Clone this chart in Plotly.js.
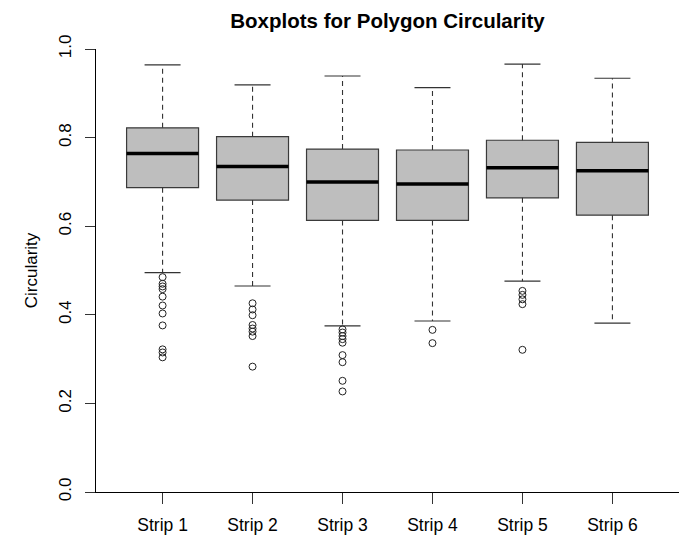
<!DOCTYPE html>
<html>
<head>
<meta charset="utf-8">
<script src="https://cdn.plot.ly/plotly-3.0.1.min.js"></script>
<style>html,body{margin:0;padding:0;background:#fff;}#chart{width:681px;height:538px;}</style>
</head>
<body>
<div id="chart"></div>
<script>
var categories = ["Strip 1", "Strip 2", "Strip 3", "Strip 4", "Strip 5", "Strip 6"];
var upperWhisker = [0.964, 0.919, 0.939, 0.913, 0.966, 0.934];
var q3 = [0.822, 0.802, 0.774, 0.772, 0.794, 0.789];
var median = [0.764, 0.735, 0.700, 0.695, 0.732, 0.725];
var q1 = [0.687, 0.659, 0.613, 0.613, 0.664, 0.625];
var lowerWhisker = [0.495, 0.465, 0.375, 0.386, 0.476, 0.381];
var outliers1 = [0.485, 0.470, 0.464, 0.458, 0.441, 0.421, 0.403, 0.376, 0.322, 0.315, 0.304];
var outliers2 = [0.426, 0.412, 0.399, 0.377, 0.369, 0.362, 0.352, 0.283];
var outliers3 = [0.367, 0.360, 0.352, 0.345, 0.337, 0.309, 0.293, 0.251, 0.227];
var outliers4 = [0.366, 0.336];
var outliers5 = [0.454, 0.445, 0.435, 0.424, 0.321];
var outliers6 = [];
var outliers = [outliers1, outliers2, outliers3, outliers4, outliers5, outliers6];

var pos = categories.map(function (c, i) { return i + 1; });
var halfBox = 0.4, halfCap = 0.2;

var medX = [], medY = [], wX = [], wY = [], capX = [], capY = [], oX = [], oY = [];
pos.forEach(function (p, i) {
  medX.push(p - halfBox, p + halfBox, null); medY.push(median[i], median[i], null);
  wX.push(p, p, null, p, p, null);
  wY.push(q3[i], upperWhisker[i], null, q1[i], lowerWhisker[i], null);
  capX.push(p - halfCap, p + halfCap, null, p - halfCap, p + halfCap, null);
  capY.push(upperWhisker[i], upperWhisker[i], null, lowerWhisker[i], lowerWhisker[i], null);
  outliers[i].forEach(function (v) { oX.push(p); oY.push(v); });
});

var traces = [
  {type: 'bar', x: pos, base: q1, y: q3.map(function (v, i) { return v - q1[i]; }),
   width: 0.8, marker: {color: '#bebebe', line: {color: '#3a3a3a', width: 1.2}},
   hoverinfo: 'skip', showlegend: false},
  {type: 'scatter', mode: 'lines', x: wX, y: wY, line: {color: '#333', width: 1.1, dash: '5px,4px'},
   showlegend: false, hoverinfo: 'skip'},
  {type: 'scatter', mode: 'lines', x: capX, y: capY, line: {color: '#333', width: 1.2},
   showlegend: false, hoverinfo: 'skip'},
  {type: 'scatter', mode: 'lines', x: medX, y: medY, line: {color: '#000', width: 3.5},
   showlegend: false, hoverinfo: 'skip'},
  {type: 'scatter', mode: 'markers', x: oX, y: oY,
   marker: {symbol: 'circle-open', size: 7, color: '#222', line: {width: 1, color: '#222'}},
   showlegend: false, hoverinfo: 'skip'}
];

var fontFam = 'Liberation Sans, Arial, sans-serif';
var layout = {
  width: 681, height: 538,
  margin: {l: 96, r: 2, t: 49, b: 46},
  paper_bgcolor: '#fff', plot_bgcolor: '#fff',
  font: {family: fontFam, size: 17, color: '#000'},
  title: {text: '<b>Boxplots for Polygon Circularity</b>', x: 0.569, xanchor: 'center', y: 0.962, yanchor: 'middle',
          font: {family: fontFam, size: 20.5, color: '#000'}},
  xaxis: {range: [0.26, 6.74], tickvals: pos, ticktext: categories, showgrid: false, zeroline: false,
          showline: true, linecolor: '#000', linewidth: 1, ticks: 'outside', ticklen: 11, tickcolor: '#333',
          tickfont: {size: 17.5}, ticklabelstandoff: 6, fixedrange: true},
  yaxis: {range: [0, 1], tickvals: [0, 0.2, 0.4, 0.6, 0.8, 1.0], ticktext: ['0.0', '0.2', '0.4', '0.6', '0.8', '1.0'],
          tickangle: -90, showgrid: false, zeroline: false, showline: true, linecolor: '#000', linewidth: 1,
          ticks: 'outside', ticklen: 10, tickcolor: '#333', tickfont: {size: 17}, ticklabelstandoff: 7,
          title: {text: 'Circularity', font: {size: 17}, standoff: 14}, fixedrange: true},
  bargap: 0
};
Plotly.newPlot('chart', traces, layout, {staticPlot: true, displayModeBar: false});
</script>
</body>
</html>
